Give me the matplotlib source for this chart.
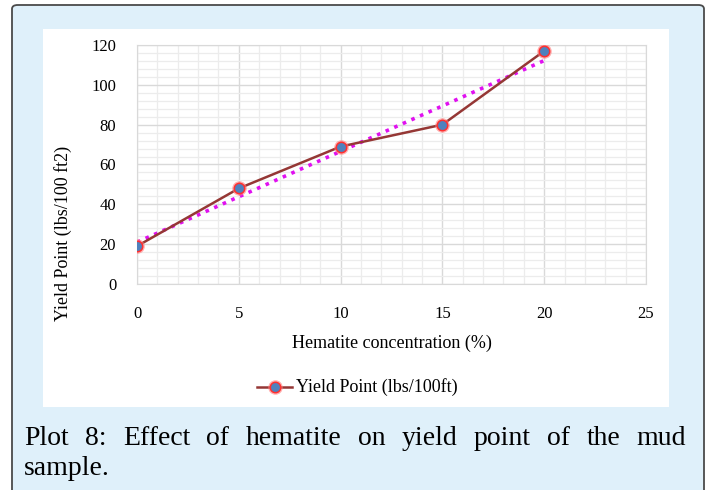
import matplotlib
matplotlib.use("Agg")
import matplotlib.pyplot as plt
import numpy as np
from matplotlib.patches import FancyBboxPatch, Rectangle
from matplotlib.lines import Line2D

plt.rcParams["font.family"] = ["Liberation Serif", "DejaVu Serif"]

conc = [0, 5, 10, 15, 20]
yield_point = [19, 48, 69, 80, 117]
x_ticks = [0, 5, 10, 15, 20, 25]
y_ticks = [0, 20, 40, 60, 80, 100, 120]
series_label = "Yield Point (lbs/100ft)"
caption_line1 = "Plot 8: Effect of hematite on yield point of the mud"
caption_line2 = "sample."

W, H = 707, 490
fig = plt.figure(figsize=(W / 100, H / 100), dpi=100)

def fx(px):
    return px / W

def fy(py):
    return 1 - py / H

# light blue panel with dark rounded border
panel = FancyBboxPatch((fx(12), fy(495)), fx(704) - fx(12), fy(5) - fy(495),
                       boxstyle="round,pad=0,rounding_size=0.008",
                       transform=fig.transFigure, facecolor="#dff0fa",
                       edgecolor="#4a4a4a", linewidth=1.3, zorder=-2)
fig.patches.append(panel)
white = Rectangle((fx(43), fy(407)), fx(669) - fx(43), fy(29) - fy(407),
                  transform=fig.transFigure, facecolor="white",
                  edgecolor="none", zorder=-1)
fig.patches.append(white)

ax = fig.add_axes([fx(137), fy(284), fx(646) - fx(137), fy(45) - fy(284)])
ax.set_facecolor("none")
ax.set_xlim(0, 25)
ax.set_ylim(0, 120)
ax.set_xticks(x_ticks)
ax.set_yticks(y_ticks)
ax.set_xticks(np.arange(0, 26, 1), minor=True)
ax.set_yticks(np.arange(0, 121, 4), minor=True)
ax.grid(which="minor", color="#ececec", linewidth=0.9)
ax.grid(which="major", color="#d9d9d9", linewidth=1.0)
ax.set_axisbelow(True)
for s in ax.spines.values():
    s.set_color("#d9d9d9")
ax.tick_params(which="both", length=0)
ax.tick_params(axis="y", pad=15, labelsize=12)
ax.tick_params(axis="x", pad=16, labelsize=12)

# linear trendline
coef = np.polyfit(conc, yield_point, 1)
tx = np.array([conc[0], conc[-1]])
ax.plot(tx, np.polyval(coef, tx), linestyle=(0, (1, 1.6)), color="#e010f0",
        linewidth=2.6, zorder=2)

ax.plot(conc, yield_point, color="#953735", linewidth=1.8, zorder=3)
ax.plot(conc, yield_point, linestyle="none", marker="o", markersize=10.5,
        markerfacecolor="#ff8080", markeredgecolor="none", alpha=0.6, zorder=4)
ax.plot(conc, yield_point, linestyle="none", marker="o", markersize=7.5,
        markerfacecolor="#4f81bd", markeredgecolor="#ff3030",
        markeredgewidth=1.1, zorder=5)

fig.text(fx(392), fy(343), "Hematite concentration (%)", ha="center",
         va="center", fontsize=13)
fig.text(fx(63), fy(233), "Yield Point (lbs/100 ft2)", ha="center",
         va="center", rotation=90, fontsize=13)

# legend
fig.add_artist(Line2D([fx(257), fx(292)], [fy(387), fy(387)],
                      transform=fig.transFigure, color="#953735", linewidth=1.8))
fig.add_artist(Line2D([fx(274.5)], [fy(387)], transform=fig.transFigure,
                      marker="o", markersize=10.5, markerfacecolor="#ff8080",
                      markeredgecolor="none", alpha=0.6))
fig.add_artist(Line2D([fx(274.5)], [fy(387)], transform=fig.transFigure,
                      marker="o", markersize=7.5, markerfacecolor="#4f81bd",
                      markeredgecolor="#ff3030", markeredgewidth=1.1))
fig.text(fx(296), fy(387), series_label, ha="left", va="center", fontsize=13)

# justified caption
renderer = fig.canvas.get_renderer()
words = caption_line1.split(" ")
x0, x1 = 24, 686
txts = [fig.text(0, fy(445), w, fontsize=20, ha="left", va="baseline")
        for w in words]
widths = [t.get_window_extent(renderer).width for t in txts]
gap = (x1 - x0 - sum(widths)) / (len(words) - 1)
pos = x0
for t, w in zip(txts, widths):
    t.set_x(fx(pos))
    pos += w + gap
fig.text(fx(x0), fy(475), caption_line2, fontsize=20, ha="left", va="baseline")

fig.savefig("out.png", dpi=100)
